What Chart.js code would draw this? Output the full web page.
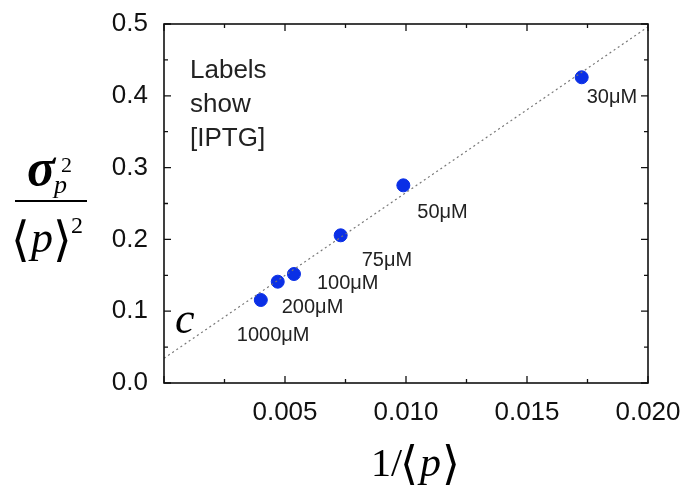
<!DOCTYPE html>
<html>
<head>
<meta charset="utf-8">
<script src="https://cdn.jsdelivr.net/npm/chart.js@4.4.0/dist/chart.umd.min.js"></script>
<style>
  html, body { margin: 0; padding: 0; background: #fff; }
  #wrap { width: 687px; height: 491px; }
</style>
</head>
<body>
<div id="wrap"><canvas id="myChart" width="687" height="491"></canvas></div>
<script>
// data
var xVals = [0.00400, 0.00470, 0.00537, 0.00730, 0.00989, 0.01726];
var yVals = [0.1156, 0.1411, 0.1518, 0.2057, 0.2753, 0.4258];
var concLabels = ["1000\u03bcM", "200\u03bcM", "100\u03bcM", "75\u03bcM", "50\u03bcM", "30\u03bcM"];
// dotted fit line ends
var fitX = [0, 0.020];
var fitY = [0.0344, 0.496];
var xRange = [0, 0.020];
var yRange = [0, 0.5];

// where each [IPTG] label sits relative to its point (px)
var labelOffsets = [[-24, 35], [4, 26], [23, 9], [21, 25], [14, 27], [5, 20]];

var sans = "'Liberation Sans', Arial, sans-serif";
var serif = "'Liberation Serif', 'Times New Roman', 'DejaVu Serif', serif";

// frame, inward ticks and annotation text
var decorPlugin = {
	id: "decor",
	afterDraw: function(chart) {
		var ctx = chart.ctx;
		var a = chart.chartArea;
		var xs = chart.scales.x, ys = chart.scales.y;
		ctx.save();
		ctx.strokeStyle = "#111";
		ctx.lineWidth = 1.6;
		ctx.strokeRect(a.left, a.top, a.right - a.left, a.bottom - a.top);

		ctx.lineWidth = 1.3;
		var v, p, len, i;
		for (i = 0; i <= 8; i++) {
			v = xRange[0] + i * 0.0025;
			p = xs.getPixelForValue(v);
			len = i % 2 === 0 ? 7 : 4;
			ctx.beginPath();
			ctx.moveTo(p, a.bottom); ctx.lineTo(p, a.bottom - len);
			ctx.moveTo(p, a.top); ctx.lineTo(p, a.top + len);
			ctx.stroke();
		}
		for (i = 0; i <= 10; i++) {
			v = yRange[0] + i * 0.05;
			p = ys.getPixelForValue(v);
			len = i % 2 === 0 ? 7 : 4;
			ctx.beginPath();
			ctx.moveTo(a.left, p); ctx.lineTo(a.left + len, p);
			ctx.moveTo(a.right, p); ctx.lineTo(a.right - len, p);
			ctx.stroke();
		}

		// concentration labels
		ctx.fillStyle = "#222";
		ctx.font = "20px " + sans;
		ctx.textBaseline = "middle";
		ctx.textAlign = "left";
		for (i = 0; i < xVals.length; i++) {
			var px = xs.getPixelForValue(xVals[i]);
			var py = ys.getPixelForValue(yVals[i]);
			ctx.fillText(concLabels[i], px + labelOffsets[i][0], py + labelOffsets[i][1]);
		}

		// note in the corner
		ctx.font = "26px " + sans;
		ctx.textBaseline = "alphabetic";
		ctx.fillText("Labels", a.left + 26, 78);
		ctx.fillText("show", a.left + 26, 112);
		ctx.fillText("[IPTG]", a.left + 26, 146);

		// intercept "c"
		ctx.fillStyle = "#000";
		ctx.font = "italic 44px " + serif;
		ctx.fillText("c", a.left + 11, 333);

		// y axis title: sigma_p^2 / <p>^2
		ctx.font = "bold italic 52px " + serif;
		ctx.fillText("\u03c3", 27, 185);
		ctx.font = "22px " + serif;
		ctx.fillText("2", 61, 172);
		ctx.font = "italic 26px " + serif;
		ctx.fillText("p", 54, 193);
		ctx.beginPath();
		ctx.lineWidth = 1.8;
		ctx.strokeStyle = "#000";
		ctx.moveTo(15, 201); ctx.lineTo(87, 201);
		ctx.stroke();
		ctx.font = "48px " + serif;
		ctx.fillText("\u27e8", 11, 256);
		ctx.font = "italic 44px " + serif;
		ctx.fillText("p", 31, 252);
		ctx.font = "48px " + serif;
		ctx.fillText("\u27e9", 53, 256);
		ctx.font = "24px " + serif;
		ctx.fillText("2", 71, 233);

		// x axis title: 1/<p>
		ctx.font = "40px " + serif;
		ctx.fillText("1/", 371, 476);
		var w = ctx.measureText("1/").width;
		ctx.font = "46px " + serif;
		ctx.fillText("\u27e8", 371 + w - 2, 479);
		var wb = ctx.measureText("\u27e8").width;
		ctx.font = "italic 42px " + serif;
		ctx.fillText("p", 371 + w + wb, 476);
		var w2 = ctx.measureText("p").width;
		ctx.font = "46px " + serif;
		ctx.fillText("\u27e9", 371 + w + wb + w2 + 1, 479);
		ctx.restore();
	}
};

var ctx = document.getElementById("myChart").getContext("2d");
var chart = new Chart(ctx, {
	type: "scatter",
	data: {
		datasets: [{
			type: "line",
			label: "fit",
			data: fitX.map(function(x, i) { return { x: x, y: fitY[i] }; }),
			borderColor: "#777",
			borderWidth: 1.2,
			borderDash: [2, 3],
			pointRadius: 0,
			fill: false
		}, {
			label: "IPTG",
			data: xVals.map(function(x, i) { return { x: x, y: yVals[i] }; }),
			backgroundColor: "#0a2fe6",
			borderColor: "#0a2fe6",
			pointRadius: 6.5,
			pointHoverRadius: 6.5
		}]
	},
	options: {
		responsive: false,
		animation: false,
		layout: { padding: { left: 0, top: 24, right: 39, bottom: 0 } },
		plugins: { legend: { display: false }, tooltip: { enabled: false } },
		scales: {
			x: {
				type: "linear",
				min: xRange[0],
				max: xRange[1],
				grid: { display: false },
				border: { display: false },
				afterFit: function(s) { s.height = 108; },
				ticks: {
					stepSize: 0.005,
					padding: 6,
					color: "#111",
					font: { family: sans, size: 26 },
					maxRotation: 0,
					callback: function(v) { return Math.abs(v) < 1e-9 ? "" : v.toFixed(3); }
				}
			},
			y: {
				min: yRange[0],
				max: yRange[1],
				grid: { display: false },
				border: { display: false },
				afterFit: function(s) { s.width = 164; },
				ticks: {
					stepSize: 0.1,
					padding: 8,
					color: "#111",
					font: { family: sans, size: 26 },
					callback: function(v) { return v.toFixed(1); }
				}
			}
		}
	},
	plugins: [decorPlugin]
});
</script>
</body>
</html>
